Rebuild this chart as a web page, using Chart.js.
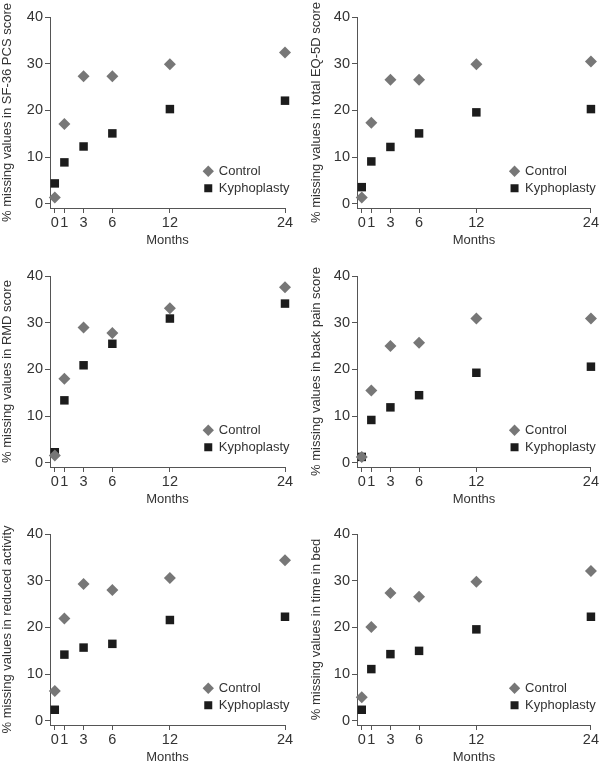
<!DOCTYPE html>
<html>
<head>
<meta charset="utf-8">
<script src="https://cdn.jsdelivr.net/npm/chart.js@4/dist/chart.umd.min.js"></script>
<style>
  html, body { margin: 0; padding: 0; background: #fff; overflow: hidden; }
  #wrap { position: relative; width: 600px; height: 766px; }
  #wrap canvas { position: absolute; }
</style>
</head>
<body>
<div id="wrap">
  <canvas id="p0" width="300" height="255" style="left:0;top:0"></canvas>
  <canvas id="p1" width="300" height="255" style="left:300px;top:0"></canvas>
  <canvas id="p2" width="300" height="255" style="left:0;top:259px"></canvas>
  <canvas id="p3" width="300" height="255" style="left:300px;top:259px"></canvas>
  <canvas id="p4" width="300" height="255" style="left:0;top:517px"></canvas>
  <canvas id="p5" width="300" height="255" style="left:300px;top:517px"></canvas>
</div>
<script>
// follow-up months and axis ticks
const months = [0, 1, 3, 6, 12, 24];
const yTicks = [0, 10, 20, 30, 40];

// % missing values
const sf36Control = [1.4, 17.1, 27.3, 27.3, 29.9, 32.4];
const sf36Kypho   = [4.4, 8.9, 12.3, 15.1, 20.3, 22.1];
const eq5dControl = [1.4, 17.4, 26.6, 26.6, 29.9, 30.5];
const eq5dKypho   = [3.6, 9.1, 12.2, 15.1, 19.6, 20.3];
const rmdControl  = [1.6, 18.0, 29.0, 27.8, 33.1, 37.6];
const rmdKypho    = [2.3, 13.4, 20.9, 25.5, 30.9, 34.1];
const painControl = [1.3, 15.5, 25.0, 25.7, 30.9, 30.9];
const painKypho   = [1.3, 9.2, 11.9, 14.5, 19.3, 20.6];
const activityControl = [6.4, 21.9, 29.3, 28.0, 30.6, 34.4];
const activityKypho   = [2.4, 14.2, 15.7, 16.5, 21.6, 22.3];
const bedControl  = [5.1, 20.1, 27.4, 26.6, 29.8, 32.1];
const bedKypho    = [2.4, 11.1, 14.3, 15.0, 19.6, 22.3];

const axisColor = '#555';
const textColor = '#333';
const font = { family: "'Liberation Sans', Arial, sans-serif", size: 13 };
const tickFont = { family: "'Liberation Sans', Arial, sans-serif", size: 14.5 };

// puts the legend inside the plot, lower right
const legendPlacer = {
  id: 'legendPlacer',
  afterLayout(chart) {
    const lg = chart.legend;
    const pad = lg.options.labels.padding;
    const left = chart.scales.x.getPixelForValue(16) - 4 - pad;
    const top = chart.scales.y.getPixelForValue(7) - font.size / 2 - pad;
    lg.left = left; lg.top = top;
    lg.width = 120; lg.height = 60;
    lg.right = left + 120; lg.bottom = top + 60;
  }
};

function points(vals) {
  return months.map((m, i) => ({ x: m, y: vals[i] }));
}

function makePanel(id, yTitle, control, kypho, rightCol) {
  new Chart(document.getElementById(id), {
    type: 'scatter',
    data: {
      datasets: [
        {
          label: 'Control',
          data: points(control),
          pointStyle: 'rectRot',
          pointRadius: 6,
          backgroundColor: '#777',
          borderColor: '#777',
          borderWidth: 0,
          clip: false
        },
        {
          label: 'Kyphoplasty',
          data: points(kypho),
          pointStyle: 'rect',
          pointRadius: 6,
          backgroundColor: '#1c1c1c',
          borderColor: '#1c1c1c',
          borderWidth: 0,
          clip: false
        }
      ]
    },
    options: {
      responsive: false,
      animation: false,
      events: [],
      layout: { padding: { left: rightCol ? 9 : 0, right: rightCol ? 9 : 15, top: 17, bottom: 0 } },
      plugins: {
        tooltip: { enabled: false },
        legend: {
          position: 'chartArea',
          align: 'start',
          labels: { usePointStyle: true, boxWidth: 8, boxHeight: 8, padding: 4, font: font, color: textColor }
        }
      },
      scales: {
        x: {
          type: 'linear',
          min: -0.5,
          max: 24,
          afterBuildTicks: s => { s.ticks = months.map(v => ({ value: v })); },
          afterFit: s => { s.height = 47; },
          ticks: { autoSkip: false, maxRotation: 0, padding: 1, font: tickFont, color: textColor },
          grid: { drawOnChartArea: false, tickLength: 5, color: axisColor },
          border: { color: axisColor },
          title: { display: true, text: 'Months', font: font, color: textColor, padding: { top: 0, bottom: 7 } }
        },
        y: {
          min: -0.86,
          max: 40,
          afterBuildTicks: s => { s.ticks = yTicks.map(v => ({ value: v })); },
          afterFit: s => { s.width = rightCol ? 48 : 50; },
          ticks: { padding: 2, font: tickFont, color: textColor },
          grid: { drawOnChartArea: false, tickLength: 5, color: axisColor },
          border: { color: axisColor },
          title: { display: true, text: yTitle, font: font, color: textColor, padding: 0 }
        }
      }
    },
    plugins: [legendPlacer]
  });
}

makePanel('p0', '% missing values in SF-36 PCS score', sf36Control, sf36Kypho, false);
makePanel('p1', '% missing values in total EQ-5D score', eq5dControl, eq5dKypho, true);
makePanel('p2', '% missing values in RMD score', rmdControl, rmdKypho, false);
makePanel('p3', '% missing values in back pain score', painControl, painKypho, true);
makePanel('p4', '% missing values in reduced activity', activityControl, activityKypho, false);
makePanel('p5', '% missing values in time in bed', bedControl, bedKypho, true);
</script>
</body>
</html>
